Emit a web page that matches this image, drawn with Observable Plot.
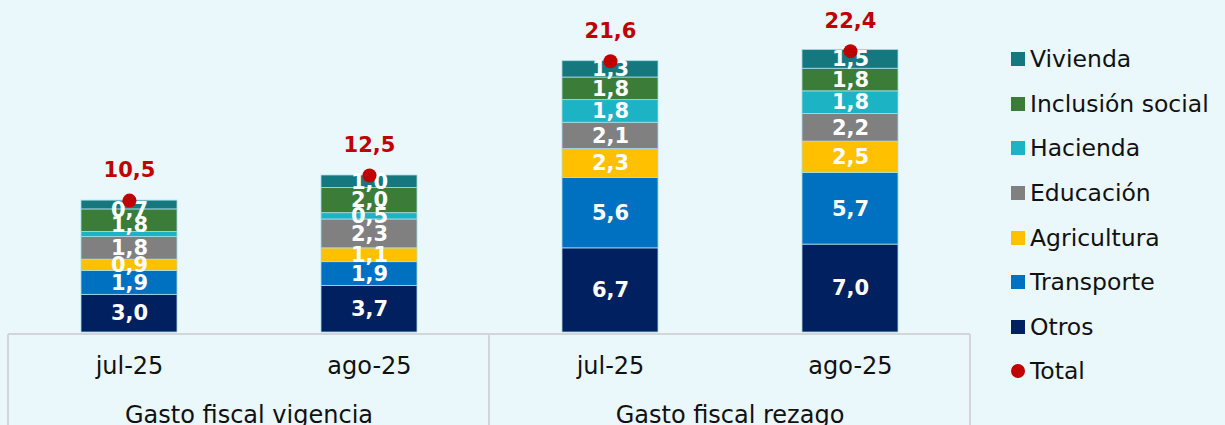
<!DOCTYPE html>
<html>
<head>
<meta charset="utf-8">
<script src="https://cdn.jsdelivr.net/npm/d3@7"></script>
<script src="https://cdn.jsdelivr.net/npm/@observablehq/plot@0.6"></script>
<style>
  html, body { margin: 0; padding: 0; background: #EAF7FB; }
  #wrap { position: relative; width: 1225px; height: 425px; overflow: hidden; }
  #legend { position: absolute; left: 1011px; top: 37px; font-family: "DejaVu Sans", Verdana, sans-serif; font-size: 23.5px; color: #111; }
  .item { height: 44.6px; display: flex; align-items: center; }
  .sw { width: 14px; height: 14px; margin-right: 5px; }
</style>
</head>
<body>
<div id="wrap"><div id="legend"></div></div>
<script>
const groups = ["Gasto fiscal vigencia", "Gasto fiscal rezago"];
const months = ["jul-25", "ago-25"];
const barGroup = [groups[0], groups[0], groups[1], groups[1]];
const barMonth = [months[0], months[1], months[0], months[1]];

const categories = ["Otros", "Transporte", "Agricultura", "Educación", "Hacienda", "Inclusión social", "Vivienda"];
const colors = ["#002060", "#0070C0", "#FFC000", "#808080", "#1CB4C5", "#3A7C38", "#15787F"];

const otros       = [3.0, 3.7, 6.7, 7.0];
const transporte  = [1.9, 1.9, 5.6, 5.7];
const agricultura = [0.9, 1.1, 2.3, 2.5];
const educacion   = [1.8, 2.3, 2.1, 2.2];
const hacienda    = [0.4, 0.5, 1.8, 1.8];
const inclusion   = [1.8, 2.0, 1.8, 1.8];
const vivienda    = [0.7, 1.0, 1.3, 1.5];
const totals      = [10.5, 12.5, 21.6, 22.4];

const series = [otros, transporte, agricultura, educacion, hacienda, inclusion, vivienda];
const rows = [];
series.forEach((vals, ci) => vals.forEach((v, i) => rows.push({group: barGroup[i], month: barMonth[i], cat: categories[ci], value: v})));
const totalRows = totals.map((t, i) => ({group: barGroup[i], month: barMonth[i], total: t}));
const fmt = v => v.toFixed(1).replace(".", ",");

const chart = Plot.plot({
  width: 1225,
  height: 425,
  marginLeft: 8,
  marginRight: 255,
  marginTop: 18,
  marginBottom: 93,
  style: {background: "transparent", fontFamily: "'DejaVu Sans', Verdana, sans-serif", fontSize: "24px", color: "#111"},
  fx: {domain: groups, padding: 0, label: null, axis: "bottom", tickSize: 0, tickPadding: 73},
  x: {domain: months, paddingInner: 0.6, paddingOuter: 0.3, label: null, tickSize: 0, tickPadding: 24},
  y: {domain: [0, 25], axis: null},
  color: {domain: categories, range: colors},
  marks: [
    Plot.barY(rows, {fx: "group", x: "month", y: "value", fill: "cat", stroke: "#A9DCE8", strokeWidth: 0.8}),
    Plot.text(rows, Plot.stackY({fx: "group", x: "month", y: "value", z: "cat", filter: d => d.value >= 0.45, text: d => fmt(d.value), fill: "white", fontWeight: "bold", fontSize: 21, fontFamily: "'DejaVu Sans', Verdana, sans-serif"})),
    Plot.dot(totalRows, {fx: "group", x: "month", y: "total", r: 7, fill: "#C00000"}),
    Plot.text(totalRows, {fx: "group", x: "month", y: "total", text: d => fmt(d.total), dy: -30, fill: "#C00000", fontWeight: "bold", fontSize: 21, fontFamily: "'DejaVu Sans', Verdana, sans-serif"})
  ]
});

document.getElementById("wrap").prepend(chart);

// axis box lines using the chart's scales
const fx = chart.scale("fx"), y = chart.scale("y");
const svg = d3.select(chart);
const y0 = y.apply(0) + 2;
const left = fx.apply(groups[0]);
const mid = fx.apply(groups[1]);
const right = mid + fx.bandwidth;
const g = svg.append("g").attr("stroke", "#D3D6D8").attr("stroke-width", 2);
g.append("line").attr("x1", left).attr("x2", right).attr("y1", y0).attr("y2", y0);
[left, mid, right].forEach(xx => g.append("line").attr("x1", xx).attr("x2", xx).attr("y1", y0).attr("y2", 425));

// legend
const legendItems = categories.map((c, i) => ({label: c, color: colors[i], dot: false})).reverse();
legendItems.push({label: "Total", color: "#C00000", dot: true});
const leg = d3.select("#legend");
legendItems.forEach(it => {
  const row = leg.append("div").attr("class", "item");
  row.append("div").attr("class", "sw").style("background", it.color).style("border-radius", it.dot ? "50%" : "0");
  row.append("span").text(it.label);
});
</script>
</body>
</html>
